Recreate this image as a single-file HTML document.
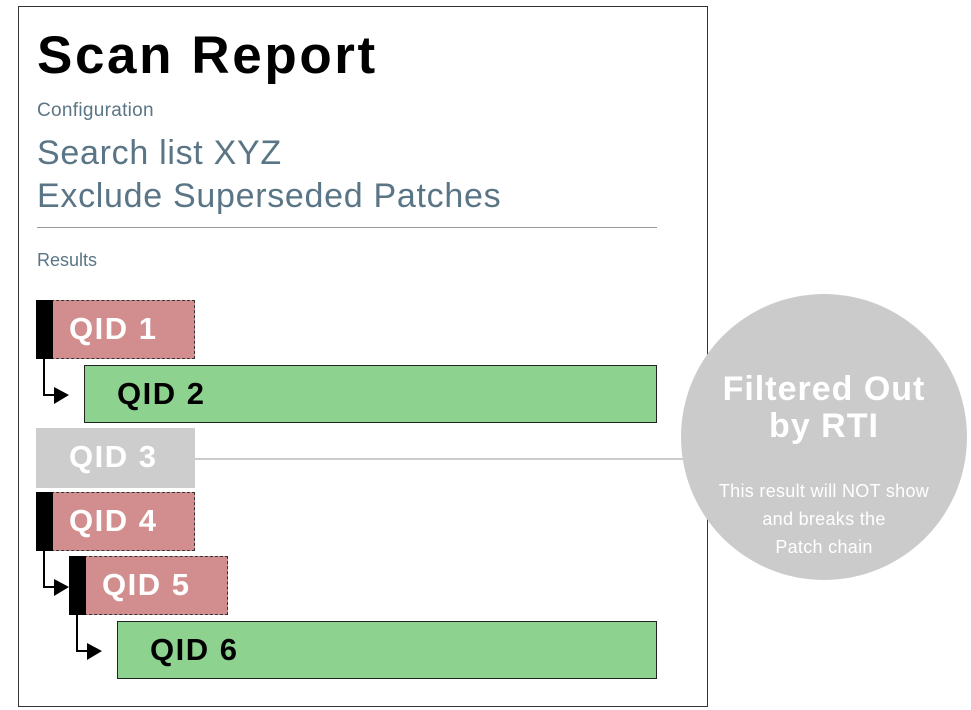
<!DOCTYPE html>
<html><head><style>
body{margin:0;width:971px;height:710px;background:#fff;position:relative;overflow:hidden;font-family:"Liberation Sans",sans-serif}
.a{position:absolute}
.t{color:#5a7585}
.box{position:absolute;box-sizing:border-box;font-weight:bold;font-size:31px;letter-spacing:1.5px;line-height:58px}
.red{background:#d28e8e;border:1px dashed #333;color:#fff}
.grn{background:#8dd28f;border:1.5px solid #222;color:#000}
.bar{position:absolute;left:-1px;top:-1px;bottom:-1px;width:17px;background:#000}
</style></head><body>
<div class="a" style="left:18px;top:6px;width:688px;height:699px;border:1px solid #333"></div>
<div class="a" style="left:37px;top:25px;font-size:53px;letter-spacing:2.6px;font-weight:bold;color:#000">Scan Report</div>
<div class="a t" style="left:37px;top:100px;font-size:19px;letter-spacing:0.3px">Configuration</div>
<div class="a t" style="left:37px;top:132px;font-size:34px;letter-spacing:0.7px;line-height:43px">Search list XYZ<br>Exclude Superseded Patches</div>
<div class="a" style="left:37px;top:227px;width:620px;height:1px;background:#999"></div>
<div class="a t" style="left:37px;top:250px;font-size:18px">Results</div>
<div class="a" style="left:195px;top:458px;width:500px;height:2px;background:#ccc"></div>
<div class="a" style="left:681px;top:294px;width:286px;height:286px;border-radius:50%;background:#cbcbcb"></div>
<div class="a" style="left:671px;top:371px;width:306px;text-align:center;color:#fff;font-weight:bold;font-size:34px;letter-spacing:1px;line-height:37px">Filtered Out<br>by RTI</div>
<div class="a" style="left:671px;top:477px;width:306px;text-align:center;color:#fff;font-size:18px;letter-spacing:0.3px;line-height:28px">This result will NOT show<br>and breaks the<br>Patch chain</div>

<div class="box red" style="left:36px;top:300px;width:159px;height:59px"><div class="bar"></div><span style="position:absolute;left:32px;top:-1px">QID 1</span></div>
<div class="box grn" style="left:84px;top:365px;width:573px;height:58px"><span style="position:absolute;left:32px;top:-1px">QID 2</span></div>
<div class="box" style="left:36px;top:428px;width:159px;height:60px;background:#cdcdcd;color:#fff"><span style="position:absolute;left:33px;top:0">QID 3</span></div>
<div class="box red" style="left:36px;top:492px;width:159px;height:59px"><div class="bar"></div><span style="position:absolute;left:32px;top:-1px">QID 4</span></div>
<div class="box red" style="left:69px;top:556px;width:159px;height:59px"><div class="bar"></div><span style="position:absolute;left:32px;top:-1px">QID 5</span></div>
<div class="box grn" style="left:117px;top:621px;width:540px;height:58px"><span style="position:absolute;left:32px;top:-1px">QID 6</span></div>

<svg class="a" style="left:0;top:0" width="971" height="710">
<g stroke="#000" stroke-width="2" fill="none">
<path d="M44 359V395H56"/><path d="M44 551V587H56"/><path d="M77 615V651H89"/>
</g>
<g fill="#000">
<path d="M54 387L69 395L54 404Z"/><path d="M54 579L69 587L54 596Z"/><path d="M87 643L102 651L87 660Z"/>
</g>
</svg>
</body></html>
